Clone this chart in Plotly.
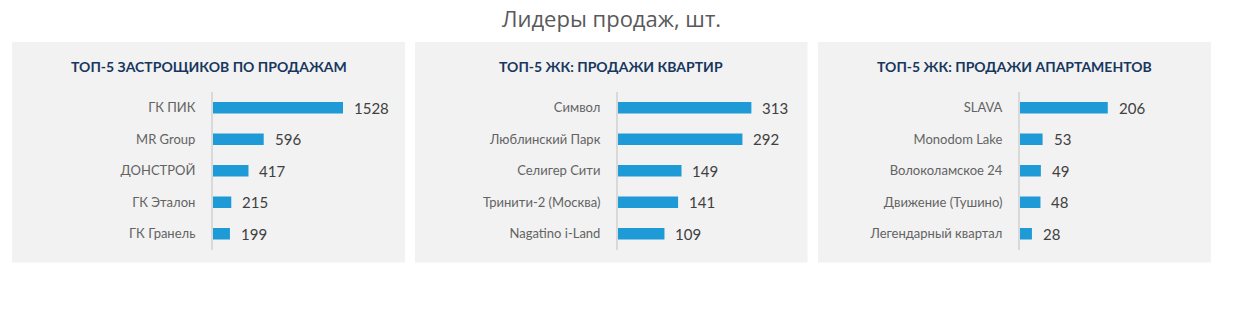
import plotly.graph_objects as go

W, H = 1244, 320

# ---- data ----
titles = ["ТОП-5 ЗАСТРОЩИКОВ ПО ПРОДАЖАМ", "ТОП-5 ЖК: ПРОДАЖИ КВАРТИР", "ТОП-5 ЖК: ПРОДАЖИ АПАРТАМЕНТОВ"]
dev_names = ["ГК ПИК", "MR Group", "ДОНСТРОЙ", "ГК Эталон", "ГК Гранель"]
dev_values = [1528, 596, 417, 215, 199]
flat_names = ["Символ", "Люблинский Парк", "Селигер Сити", "Тринити-2 (Москва)", "Nagatino i-Land"]
flat_values = [313, 292, 149, 141, 109]
apt_names = ["SLAVA", "Monodom Lake", "Волоколамское 24", "Движение (Тушино)", "Легендарный квартал"]
apt_values = [206, 53, 49, 48, 28]
main_title = "Лидеры продаж, шт."

def fx(px):
    return px / W

def fy(py):
    return 1 - py / H

panels = [
    dict(names=dev_names, values=dev_values, box=(12, 405), axis_x=213, xmax=1763),
    dict(names=flat_names, values=flat_values, box=(415, 807.5), axis_x=618, xmax=352),
    dict(names=apt_names, values=apt_values, box=(818, 1211), axis_x=1020, xmax=352),
]

BAR = "#1E9AD6"
fig = go.Figure()
shapes = []
annotations = []
layout_axes = {}

for i, p in enumerate(panels):
    n = "" if i == 0 else str(i + 1)
    xa, ya = "x" + n, "y" + n
    fig.add_trace(go.Bar(
        x=p["values"], y=p["names"], orientation="h",
        marker=dict(color=BAR, line=dict(width=0)),
        xaxis=xa, yaxis=ya, showlegend=False, hoverinfo="x+y",
    ))
    layout_axes["xaxis" + n] = dict(
        domain=[fx(p["axis_x"]), fx(p["axis_x"] + 150)], range=[0, p["xmax"]],
        visible=False, anchor=ya, fixedrange=True,
    )
    layout_axes["yaxis" + n] = dict(
        domain=[fy(249.5), fy(92)], type="category", autorange="reversed",
        anchor=xa, showline=True, linecolor="#D9D9D9", linewidth=2,
        showgrid=False, zeroline=False, ticks="", ticklabelstandoff=13,
        tickfont=dict(family="Lato", size=13, color="#636363"), fixedrange=True,
    )
    x0, x1 = p["box"]
    shapes.append(dict(type="rect", xref="paper", yref="paper",
                       x0=fx(x0), x1=fx(x1), y0=fy(262.5), y1=fy(42),
                       fillcolor="#F2F2F2", line=dict(width=0), layer="below"))
    annotations.append(dict(text="<b>" + titles[i] + "</b>", xref="paper", yref="paper",
                            x=fx((x0 + x1) / 2), y=fy(66), xanchor="center", yanchor="middle",
                            showarrow=False,
                            font=dict(family="Lato", size=14, color="#17375E")))
    for name, v in zip(p["names"], p["values"]):
        annotations.append(dict(text=str(v), x=v, y=name, xref=xa, yref=ya,
                                xanchor="left", yanchor="middle", xshift=9, showarrow=False,
                                font=dict(family="Lato", size=15, color="#404040")))

annotations.append(dict(text=main_title, xref="paper", yref="paper", x=fx(611), y=fy(18),
                        xanchor="center", yanchor="middle", showarrow=False,
                        font=dict(family="Open Sans", size=22, color="#595959")))

fig.update_layout(
    width=W, height=H, margin=dict(l=0, r=0, t=0, b=0),
    paper_bgcolor="white", plot_bgcolor="rgba(0,0,0,0)",
    bargap=0.64, shapes=shapes, annotations=annotations,
    **layout_axes,
)

fig.write_html("out.html")
